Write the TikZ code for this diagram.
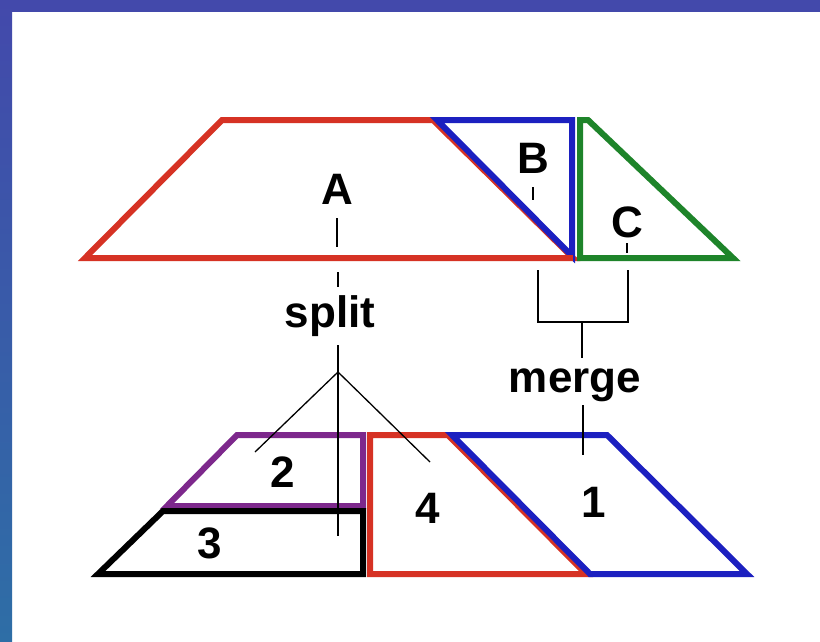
\documentclass[tikz,border=0pt]{standalone}
\usepackage{fontspec}
\setmainfont{Liberation Sans}
\definecolor{framea}{RGB}{67,73,171}
\definecolor{frameb}{RGB}{46,110,166}
\definecolor{sred}{RGB}{214,50,36}
\definecolor{sblue}{RGB}{28,32,192}
\definecolor{sgreen}{RGB}{30,132,42}
\definecolor{spurple}{RGB}{125,40,140}
\begin{document}
\begin{tikzpicture}[x=1pt,y=-1pt,
  lbl/.style={font=\fontsize{44}{44}\selectfont\bfseries, inner sep=0pt, anchor=base},
  piece/.style={line width=6pt, line join=miter},
  conn/.style={line width=1.3pt, black}]
\useasboundingbox (0,0) rectangle (820,641);
\fill[white] (0,0) rectangle (820,641);
\fill[framea] (0,0) rectangle (820,11.5);
\shade[top color=framea, bottom color=frameb] (0,0) rectangle (12,641);

% top row
\draw[piece, sred] (85,258) -- (222,120) -- (433,120) -- (573,258) -- cycle;
\draw[piece, sblue] (437,120) -- (572,120) -- (572,256) -- cycle;
\draw[piece, sgreen] (580,120) -- (588,120) -- (733,258) -- (580,258) -- cycle;
\draw[piece, sred] (85,258) -- (573,258);

% bottom row
\draw[piece, spurple] (237,435) -- (363,435) -- (363,506) -- (167,506) -- cycle;
\draw[piece, black] (163,511) -- (363,511) -- (363,574) -- (98,574) -- cycle;
\draw[piece, sred] (370,435) -- (448,435) -- (586,574) -- (370,574) -- cycle;
\draw[piece, sblue] (452,435) -- (607,435) -- (747,574) -- (590,574) -- cycle;

% labels
\node[lbl] (A) at (337,204) {A};
\node[lbl] (B) at (533,173) {B};
\node[lbl] (C) at (627,237) {C};
\node[lbl] (split) at (330,327) {split};
\node[lbl] (merge) at (575,392) {merge};
\node[lbl] (n2) at (283,487) {2};
\node[lbl] (n3) at (210,558) {3};
\node[lbl] (n4) at (428,523) {4};
\node[lbl] (n1) at (594,517) {1};

% split connectors
\coordinate (a1) at (337,218);
\coordinate (a2) at (337,247);
\coordinate (a3) at (338,272);
\coordinate (a4) at (338,287);
\coordinate (a5) at (338,345);
\coordinate (fork) at (338,372);
\coordinate (t3) at (338,536);
\coordinate (t2) at (255,452);
\coordinate (t4) at (430,462);
\draw[conn] (a1) -- (a2);
\draw[conn] (a3) -- (a4);
\draw[conn] (a5) -- (t3);
\draw[conn] (fork) -- (t2);
\draw[conn] (fork) -- (t4);

% merge connectors
\coordinate (b1) at (533,187);
\coordinate (b2) at (533,200);
\coordinate (c1) at (627,243);
\coordinate (c2) at (627,253);
\coordinate (bl) at (538,270);
\coordinate (br) at (628,270);
\coordinate (m1) at (582,322);
\coordinate (m2) at (582,358);
\coordinate (m3) at (583,405);
\coordinate (t1) at (583,455);
\draw[conn] (b1) -- (b2);
\draw[conn] (c1) -- (c2);
\draw[conn] (bl) |- (m1) -| (br);
\draw[conn] (m1) -- (m2);
\draw[conn] (m3) -- (t1);
\end{tikzpicture}
\end{document}
